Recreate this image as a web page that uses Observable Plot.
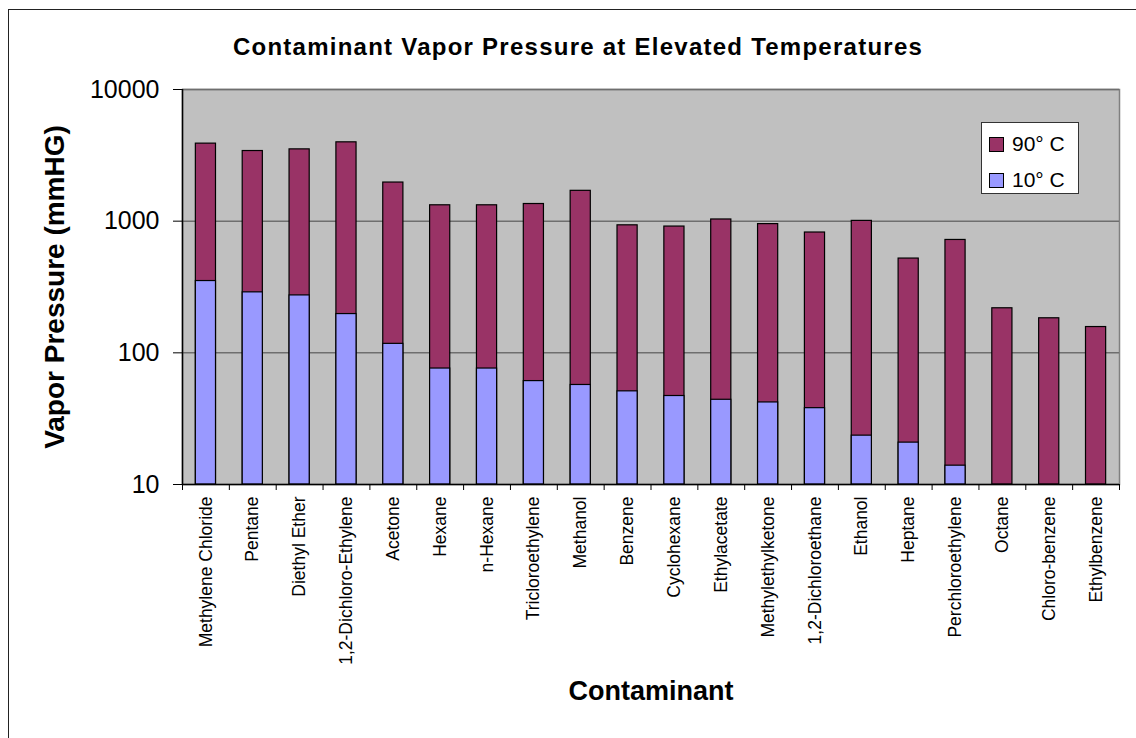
<!DOCTYPE html>
<html>
<head>
<meta charset="utf-8">
<script src="https://cdn.jsdelivr.net/npm/d3@7"></script>
<script src="https://cdn.jsdelivr.net/npm/@observablehq/plot@0.6"></script>
<style>
  body { margin: 0; background: #fff; font-family: "Liberation Sans", Arial, sans-serif; }
  #wrap { position: relative; width: 1136px; height: 738px; overflow: hidden; }
  #frame { position: absolute; left: 8px; top: 9px; width: 1200px; height: 800px; border: 1.5px solid #222; box-sizing: border-box; pointer-events: none; }
  #title { height: 70px; width: 1156px; display: flex; align-items: flex-end; justify-content: center; font-weight: bold; font-size: 24px; letter-spacing: 1.25px; line-height: 24px; box-sizing: border-box; }
  #title span { display: block; margin-bottom: 11px; }
  #legend { position: absolute; left: 981px; top: 122px; width: 98px; height: 72px; background: #fff; border: 1px solid #333; box-sizing: border-box; font-size: 21px; }
  .item { position: absolute; left: 7px; display: flex; align-items: center; }
  .sw { width: 15px; height: 15px; border: 1px solid #000; box-sizing: border-box; margin-right: 8px; }
</style>
</head>
<body>
<div id="wrap">
  <div id="title"><span>Contaminant Vapor Pressure at Elevated Temperatures</span></div>
  <div id="chart"></div>
  <div id="legend"></div>
  <div id="frame"></div>
</div>
<script>
const categories = ["Methylene Chloride", "Pentane", "Diethyl Ether", "1,2-Dichloro-Ethylene", "Acetone", "Hexane", "n-Hexane", "Tricloroethylene", "Methanol", "Benzene", "Cyclohexane", "Ethylacetate", "Methylethylketone", "1,2-Dichloroethane", "Ethanol", "Heptane", "Perchloroethylene", "Octane", "Chloro-benzene", "Ethylbenzene"];
const vp90 = [3880, 3410, 3510, 3970, 1965, 1320, 1320, 1350, 1700, 930, 910, 1030, 950, 820, 1005, 520, 720, 218, 183, 157];
const vp10 = [351, 288, 273, 197, 117, 76, 76, 61, 57, 51, 47, 44, 42, 38, 23.5, 20.8, 13.9, null, null, null];
const yTicks = [10, 100, 1000, 10000];
const seriesNames = ["90° C", "10° C"];
const seriesColors = ["#993366", "#9999ff"];

const base = yTicks[0];
const rows90 = categories.map((name, i) => ({name, base, value: vp90[i]}));
const rows10 = categories.map((name, i) => ({name, base, value: vp10[i]})).filter(d => d.value != null);

const W = 1136, H = 668, mL = 182, mR = 17, mT = 19, mB = 254;
const step = (W - mL - mR) / categories.length;
const font = "'Liberation Sans', Arial, sans-serif";

const chart = Plot.plot({
  width: W, height: H,
  marginLeft: mL, marginRight: mR, marginTop: mT, marginBottom: mB,
  style: {fontFamily: font, background: "transparent", color: "#000"},
  x: {type: "band", domain: categories, paddingInner: 0.57, paddingOuter: 0.285, round: false},
  y: {type: "log", domain: [yTicks[0], yTicks[yTicks.length - 1]]},
  marks: [
    Plot.frame({fill: "#c0c0c0", stroke: "#808080", strokeWidth: 1.5}),
    Plot.ruleY(yTicks.slice(1), {stroke: "#6e6e6e", strokeWidth: 1.5}),
    Plot.barY(rows90, {x: "name", y1: "base", y2: "value", fill: seriesColors[0], stroke: "#000", strokeWidth: 1.2}),
    Plot.barY(rows10, {x: "name", y1: "base", y2: "value", fill: seriesColors[1], stroke: "#000", strokeWidth: 1.2}),
    Plot.ruleY([base], {stroke: "#000", strokeWidth: 1.5}),
    Plot.ruleX([categories[0]], {dx: -step / 2, stroke: "#000", strokeWidth: 1.5}),
    Plot.axisY({ticks: yTicks, tickFormat: d => String(d), tickSize: 9, tickPadding: 14, fontSize: 25, label: null}),
    Plot.axisX(categories, {tickSize: 6, tickFormat: () => "", dx: -step / 2, label: null}),
    Plot.axisX([categories[categories.length - 1]], {tickSize: 6, tickFormat: () => "", dx: step / 2, label: null}),
    Plot.axisX(categories, {tickSize: 0, tickPadding: 12, rotate: -90, textAnchor: "end", lineAnchor: "middle", fontSize: 17.5, label: null}),
    Plot.text(["Vapor Pressure (mmHG)"], {text: d => d, frameAnchor: "left", dx: -127, rotate: -90, textAnchor: "middle", fontSize: 28, fontWeight: "bold"}),
    Plot.text(["Contaminant"], {text: d => d, frameAnchor: "bottom", dy: 215, textAnchor: "middle", fontSize: 27, fontWeight: "bold"})
  ]
});
document.getElementById("chart").appendChild(chart);

const legend = document.getElementById("legend");
seriesNames.forEach((s, i) => {
  const it = document.createElement("div");
  it.className = "item";
  it.style.top = (i === 0 ? 9 : 45) + "px";
  it.innerHTML = `<div class="sw" style="background:${seriesColors[i]}"></div><span>${s}</span>`;
  legend.appendChild(it);
});
</script>
</body>
</html>
